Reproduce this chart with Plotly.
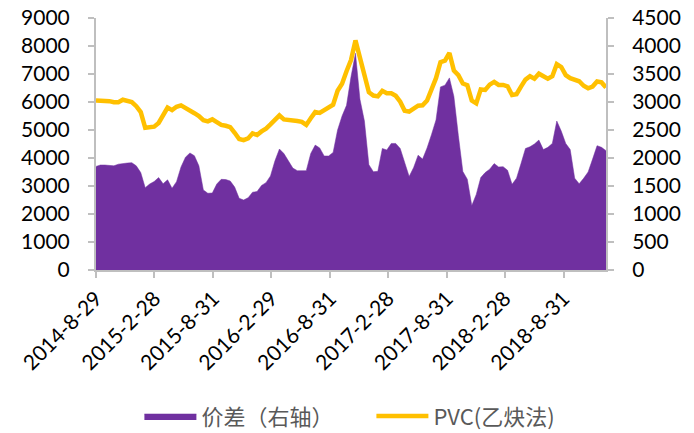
import pandas as pd
import plotly.graph_objects as go

# Bi-weekly observations (Fridays), 2014-08-29 .. 2019-01-11
dates = pd.date_range("2014-08-29", "2019-01-11", freq="14D")

# PVC price, calcium-carbide route (left axis)
pvc = [
    6050, 6050, 6050, 6030, 5990, 5990, 6080, 6020, 6000, 5850,
    5640, 5080, 5080, 5120, 5250, 5550, 5800, 5710, 5830, 5880,
    5800, 5680, 5600, 5500, 5350, 5310, 5380, 5280, 5180, 5150,
    5100, 4900, 4680, 4640, 4700, 4880, 4820, 4950, 5050, 5200,
    5350, 5520, 5380, 5370, 5360, 5320, 5290, 5180, 5420, 5640,
    5610, 5700, 5800, 5900, 6400, 6650, 7100, 7500, 8200, 7600,
    7000, 6350, 6230, 6200, 6400, 6310, 6310, 6220, 6010, 5690,
    5655, 5750, 5870, 5880, 6050, 6450, 6850, 7420, 7480, 7750,
    7120, 6960, 6660, 6600, 6050, 5950, 6450, 6430, 6620, 6720,
    6610, 6610, 6560, 6250, 6280, 6550, 6800, 6920, 6830, 7010,
    6900, 6830, 6920, 7350, 7250, 6960, 6850, 6800, 6740, 6580,
    6490, 6550, 6730, 6700, 6520,
]

# Price spread (right axis)
spread = [
    1850, 1875, 1875, 1870, 1860, 1890, 1905, 1910, 1917, 1860,
    1740, 1470, 1536, 1580, 1650, 1540, 1610, 1460, 1578, 1840,
    2015, 2090, 2040, 1860, 1430, 1370, 1375, 1536, 1619, 1615,
    1590, 1480, 1280, 1250, 1290, 1390, 1400, 1510, 1560, 1680,
    1950, 2160, 2080, 1950, 1820, 1774, 1774, 1774, 2080, 2230,
    2180, 2036, 2036, 2100, 2500, 2750, 2940, 3450, 3870, 3050,
    2660, 1880, 1756, 1762, 2170, 2143, 2260, 2260, 2170, 1900,
    1670, 1830, 2050, 1980, 2180, 2420, 2680, 3270, 3300, 3430,
    3100, 2400, 1760, 1620, 1150, 1350, 1650, 1740, 1800, 1900,
    1840, 1845, 1780, 1530, 1640, 1900, 2170, 2200, 2250, 2320,
    2150, 2190, 2260, 2660, 2480, 2260, 2150, 1640, 1540, 1637,
    1750, 1980, 2220, 2190, 2131,
]

tick_dates = ["2014-08-29", "2015-02-28", "2015-08-31", "2016-02-29", "2016-08-31",
              "2017-02-28", "2017-08-31", "2018-02-28", "2018-08-31"]
tick_labels = ["2014-8-29", "2015-2-28", "2015-8-31", "2016-2-29", "2016-8-31",
               "2017-2-28", "2017-8-31", "2018-2-28", "2018-8-31"]

left_ticks = list(range(0, 9001, 1000))
right_ticks = list(range(0, 4501, 500))

PURPLE = "#7030A0"
GOLD = "#FFC000"
AXIS = "#BFBFBF"
FONT = "Lato, 'Noto Sans CJK SC', sans-serif"

fig = go.Figure()

fig.add_trace(go.Scatter(
    x=dates, y=spread, name="价差（右轴）",
    mode="lines", line=dict(color=PURPLE, width=0.5),
    fill="tozeroy", fillcolor=PURPLE, yaxis="y",
))
fig.add_trace(go.Scatter(
    x=dates, y=pvc, name="PVC(乙炔法)",
    mode="lines", line=dict(color=GOLD, width=4.5),
    yaxis="y2",
))

fig.update_layout(
    width=694, height=433,
    margin=dict(l=96, r=88, t=18, b=163, autoexpand=False),
    paper_bgcolor="white", plot_bgcolor="white",
    font=dict(family=FONT, size=21, color="#000000"),
    showlegend=True,
    legend=dict(
        orientation="h", x=0.54, xanchor="center", y=-0.58, yanchor="middle",
        font=dict(size=22, color="#595959", family="'Noto Sans CJK SC', Lato, sans-serif"),
        itemwidth=52, traceorder="normal", entrywidth=165,
    ),
    xaxis=dict(
        type="date",
        range=[dates[0], dates[-1]],
        tickmode="array", tickvals=tick_dates, ticktext=tick_labels,
        tickangle=-45,
        showline=True, linecolor=AXIS, linewidth=2,
        ticks="outside", ticklen=6, tickcolor=AXIS, tickwidth=2,
        showgrid=False, zeroline=False,
    ),
    # right axis: price spread
    yaxis=dict(
        side="right", range=[0, 4500],
        tickmode="array", tickvals=right_ticks,
        showline=True, linecolor=AXIS, linewidth=2,
        ticks="outside", ticklen=6, tickcolor=AXIS, tickwidth=2,
        ticklabelstandoff=14,
        showgrid=False, zeroline=False,
    ),
    # left axis: PVC price
    yaxis2=dict(
        side="left", overlaying="y", range=[0, 9000],
        tickmode="array", tickvals=left_ticks,
        showline=True, linecolor=AXIS, linewidth=2,
        ticks="outside", ticklen=6, tickcolor=AXIS, tickwidth=2,
        ticklabelstandoff=14,
        showgrid=False, zeroline=False,
    ),
)

fig.write_html("out.html")
